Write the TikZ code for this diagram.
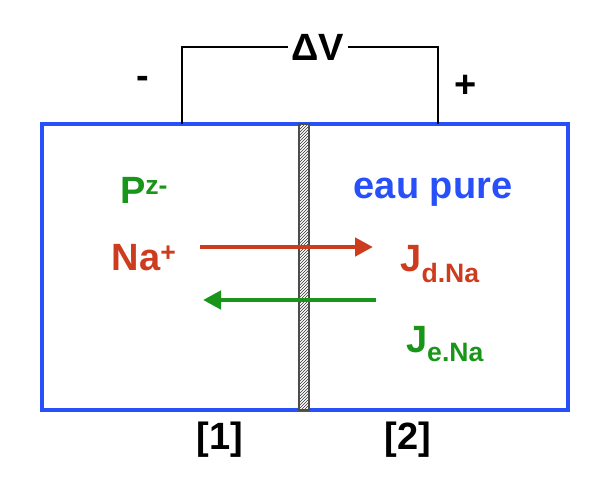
\documentclass[tikz,border=0pt]{standalone}
\usepackage{fontspec}
\setmainfont{Liberation Sans}
\usetikzlibrary{arrows.meta,patterns}
\begin{document}
\begin{tikzpicture}[x=1pt,y=-1pt,
  lbl/.style={font=\fontsize{38}{42}\selectfont\bfseries},
  flux/.style={line width=4.5pt,-{Triangle[length=18pt,width=18pt]}}]
\definecolor{my_blue}{RGB}{40,80,250}
\definecolor{my_red}{RGB}{205,60,30}
\definecolor{my_green}{RGB}{25,150,25}
\useasboundingbox (0,0) rectangle (612,498);

% cell and membrane
\draw[my_blue,line width=3.5pt] (42,124) rectangle (568,410);
\fill[white] (299,124) rectangle (309,410);
\fill[pattern=north east lines,pattern color=black!80] (299,124) rectangle (309,410);
\draw[black!70,line width=1.2pt] (299,124) rectangle (309,410);

% generator
\node[lbl,inner sep=3pt] (dv) at (318,47) {ΔV};
\coordinate (wl) at (182,124);
\coordinate (wr) at (438,124);
\draw[line width=1.2pt] (wl) |- (dv.west);
\draw[line width=1.2pt] (wr) |- (dv.east);
\node[lbl] (minus) at (143,82) {-};
\node[lbl] (plus) at (466,86) {+};

% species
\node[lbl,my_green] (P) at (144,190) {P\textsuperscript{z-}};
\node[lbl,my_blue] (eau) at (433,192) {eau pure};
\node[lbl,my_red] (Na) at (144,258) {Na\textsuperscript{+}};
\node[lbl,my_red] (Jd) at (440,264) {J\textsubscript{d.Na}};
\node[lbl,my_green] (Je) at (445,344) {J\textsubscript{e.Na}};

% fluxes
\coordinate (r1) at (200,247);
\coordinate (r2) at (373,247);
\coordinate (g1) at (376,300);
\coordinate (g2) at (203,300);
\draw[flux,my_red] (r1) -- (r2);
\draw[flux,my_green] (g1) -- (g2);

\node[lbl] (c1) at (220,440) {[1]};
\node[lbl] (c2) at (408,440) {[2]};
\end{tikzpicture}
\end{document}
